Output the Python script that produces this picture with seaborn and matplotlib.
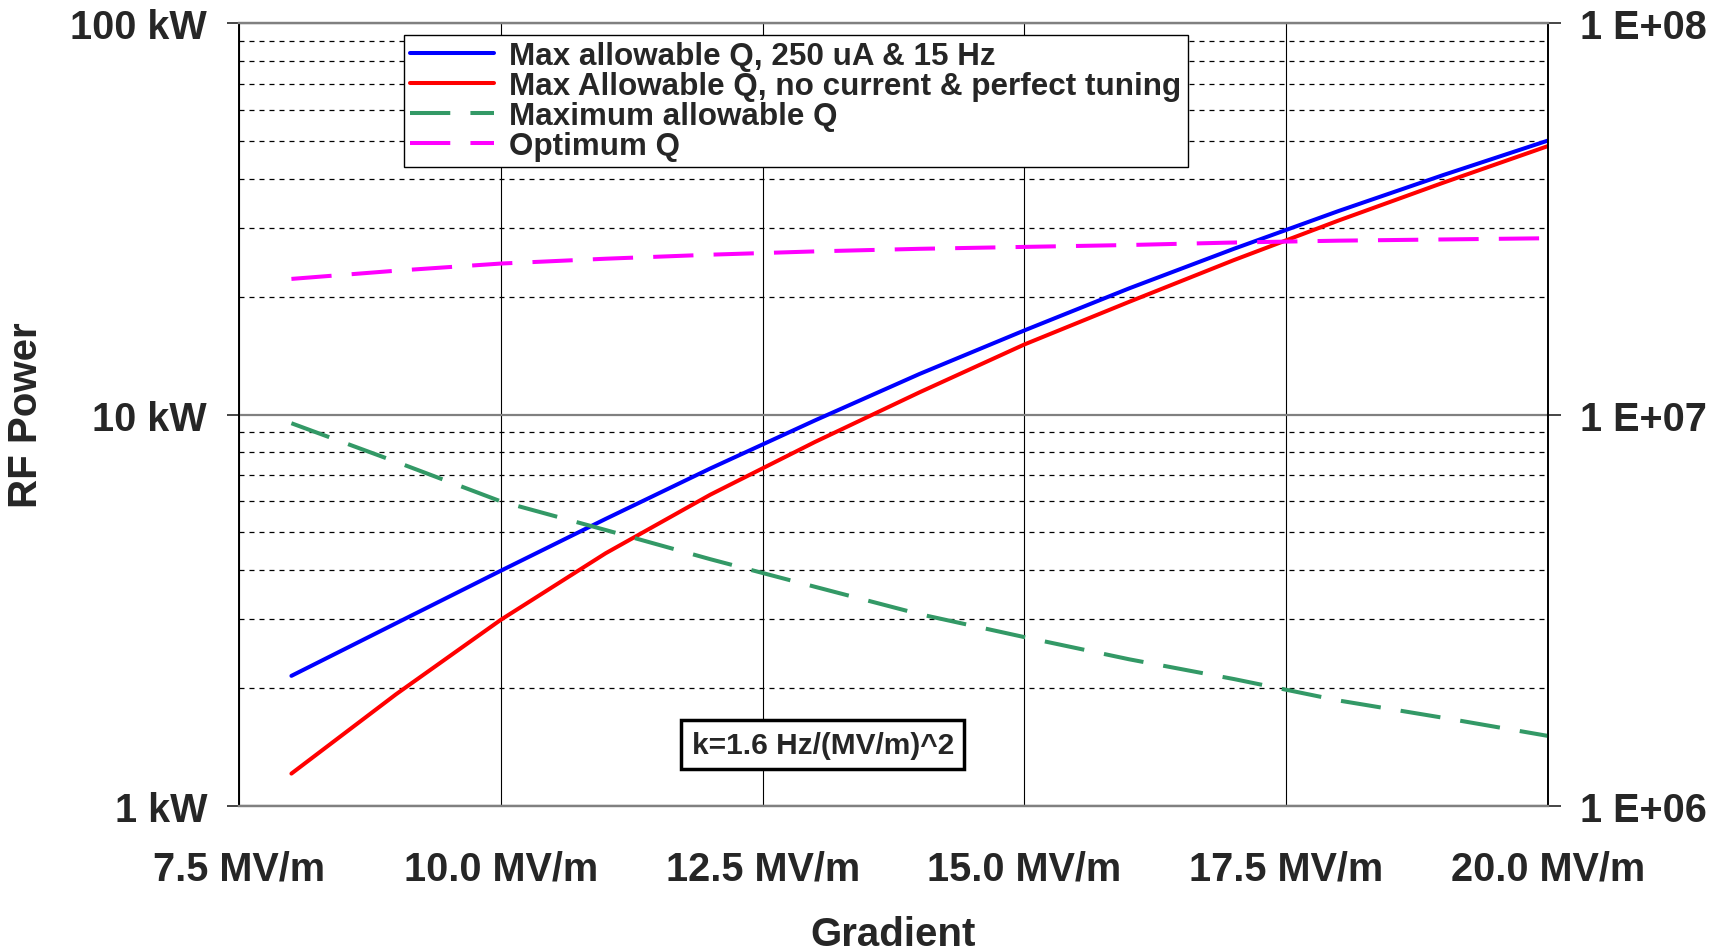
import numpy as np
import pandas as pd
import seaborn as sns
import matplotlib.pyplot as plt
from matplotlib.lines import Line2D

# gradient (MV/m)
gradient = [8, 9, 10, 11, 12, 13, 14, 15, 16, 17, 18, 19, 20]

# RF power (kW), left axis
power_250uA = [2.15, 2.93, 3.99, 5.41, 7.28, 9.66, 12.7, 16.4, 21.0, 26.5, 33.1, 40.9, 50.1]
power_perfect = [1.21, 1.93, 2.99, 4.42, 6.24, 8.51, 11.4, 15.1, 19.4, 24.8, 31.3, 39.1, 48.5]

# Q values, right axis
q_max = [9.5e6, 7.57e6, 6.0e6, 5.07e6, 4.27e6, 3.63e6, 3.09e6, 2.70e6, 2.37e6, 2.11e6, 1.86e6, 1.68e6, 1.51e6]
q_opt = [2.22e7, 2.33e7, 2.43e7, 2.50e7, 2.56e7, 2.61e7, 2.65e7, 2.68e7, 2.71e7, 2.75e7, 2.78e7, 2.80e7, 2.82e7]

x_ticks = [7.5, 10.0, 12.5, 15.0, 17.5, 20.0]
left_ticks = [1, 10, 100]
left_labels = ['1 kW', '10 kW', '100 kW']
right_ticks = [1e6, 1e7, 1e8]
right_labels = ['1 E+06', '1 E+07', '1 E+08']

labels = ['Max allowable Q, 250 uA & 15 Hz',
          'Max Allowable Q, no current & perfect tuning',
          'Maximum allowable Q',
          'Optimum Q']

sns.set_style('white')
plt.rcParams['font.family'] = ['Liberation Sans', 'DejaVu Sans']
plt.rcParams['font.weight'] = 'bold'

df = pd.DataFrame({'gradient': gradient, 'p1': power_250uA, 'p2': power_perfect,
                   'qmax': q_max, 'qopt': q_opt})

fig = plt.figure(figsize=(17.21, 9.53), dpi=100)
ax = fig.add_axes([0.1389, 0.1532, 0.7606, 0.8216])
ax2 = ax.twinx()

lw = 2.9
dash = [10, 5]
sns.lineplot(data=df, x='gradient', y='p1', ax=ax, color='#0000FF', linewidth=lw)
sns.lineplot(data=df, x='gradient', y='p2', ax=ax, color='#FF0000', linewidth=lw)
sns.lineplot(data=df, x='gradient', y='qmax', ax=ax2, color='#339966', linewidth=lw)
ax2.lines[-1].set_dashes(dash)
sns.lineplot(data=df, x='gradient', y='qopt', ax=ax2, color='#FF00FF', linewidth=lw)
ax2.lines[-1].set_dashes(dash)

ax.set_yscale('log')
ax2.set_yscale('log')
ax.set_ylim(1, 100)
ax2.set_ylim(1e6, 1e8)
ax.set_xlim(7.5, 20)

# grid lines
for v in x_ticks:
    ax.axvline(v, color='black', lw=0.8, zorder=0)
for d in [1, 10]:
    for m in range(2, 10):
        ax.axhline(d * m, color='black', lw=0.9, ls=(0, (4, 4)), zorder=0)
for v in left_ticks:
    ax.axhline(v, color='#808080', lw=1.6, zorder=0)

fs = 28.5
ax.set_xticks(x_ticks)
ax.set_xticklabels(['%.1f MV/m' % v for v in x_ticks], fontsize=fs, fontweight='bold')
ax.tick_params(axis='x', length=0, pad=31)
ax.set_yticks(left_ticks)
ax.set_yticklabels(left_labels, fontsize=fs, fontweight='bold')
ax.yaxis.set_minor_locator(plt.NullLocator())
ax.tick_params(axis='y', which='major', length=9, width=1.2, pad=14, direction='out', left=True)
ax2.set_yticks(right_ticks)
ax2.set_yticklabels(right_labels, fontsize=fs, fontweight='bold')
ax2.yaxis.set_minor_locator(plt.NullLocator())
ax2.tick_params(axis='y', which='major', length=9, width=1.2, pad=14, direction='out', right=True)
ax2.set_ylabel('')

ax.set_xlabel('Gradient', fontsize=29, fontweight='bold', labelpad=20)
ax.set_ylabel('RF Power', fontsize=29, fontweight='bold', labelpad=18)

for a in (ax, ax2):
    a.spines['left'].set_color('black')
    a.spines['right'].set_color('black')
    a.spines['top'].set_color('#808080')
    a.spines['bottom'].set_color('#808080')
    a.spines['top'].set_linewidth(1.6)
    a.spines['bottom'].set_linewidth(1.6)
    a.spines['left'].set_linewidth(1.2)
    a.spines['right'].set_linewidth(1.2)

handles = [Line2D([], [], color='#0000FF', lw=lw),
           Line2D([], [], color='#FF0000', lw=lw),
           Line2D([], [], color='#339966', lw=lw, dashes=dash),
           Line2D([], [], color='#FF00FF', lw=lw, dashes=dash)]
leg = ax2.legend(handles, labels, loc='upper left', bbox_to_anchor=(0.126, 0.985),
                 prop={'size': 22.6, 'weight': 'bold'}, frameon=True, fancybox=False,
                 edgecolor='black', framealpha=1, labelspacing=0.0, handlelength=2.66,
                 borderpad=0.2, borderaxespad=0, handletextpad=0.5)
leg.get_frame().set_linewidth(1.0)

ax2.text(0.446, 0.078, 'k=1.6 Hz/(MV/m)^2', transform=ax2.transAxes, fontsize=21.5,
         fontweight='bold', ha='center', va='center',
         bbox=dict(boxstyle='square,pad=0.35', facecolor='white', edgecolor='black', linewidth=2.5))

fig.savefig('out.png', dpi=100)
